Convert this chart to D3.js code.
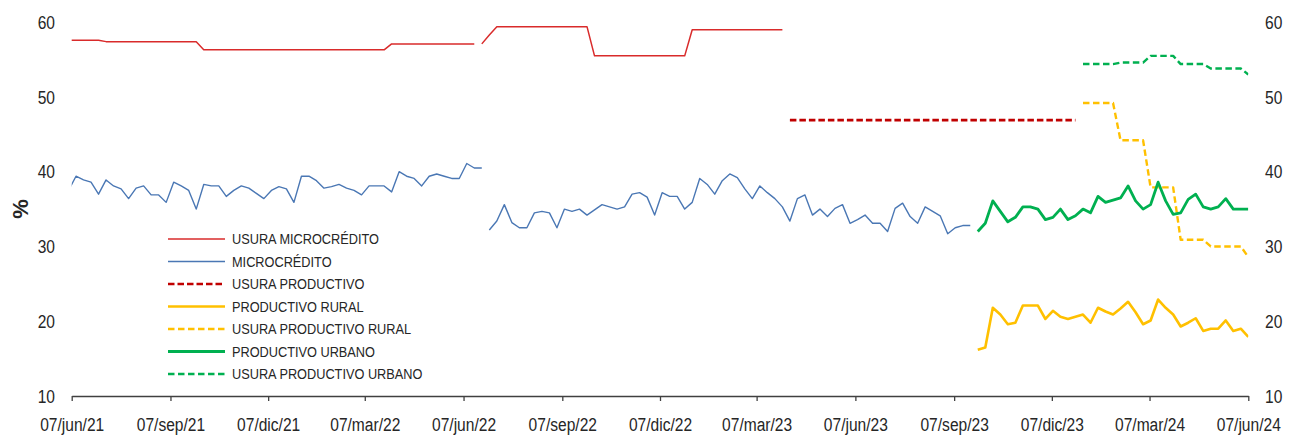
<!DOCTYPE html>
<html><head><meta charset="utf-8">
<script src="https://cdn.jsdelivr.net/npm/d3@7"></script>
<style>
body{margin:0;background:#fff}
svg{display:block}
text{font-family:"Liberation Sans",Arial,sans-serif;fill:#262626}
</style></head>
<body><svg id="c" width="1297" height="438"></svg>
<script>
// ---------- DATA ----------
const firstWeek = "2021-06-04"; // week index 0 (weekly, Fridays)
const tickDates = ["2021-06-07","2021-09-07","2021-12-07","2022-03-07","2022-06-07","2022-09-07","2022-12-07","2023-03-07","2023-06-07","2023-09-07","2023-12-07","2024-03-07","2024-06-07"];
const tickLabels = ["07/jun/21","07/sep/21","07/dic/21","07/mar/22","07/jun/22","07/sep/22","07/dic/22","07/mar/23","07/jun/23","07/sep/23","07/dic/23","07/mar/24","07/jun/24"];
const yTicks = [10,20,30,40,50,60];

// week 0-54
const usuraMicrocredito1 = [57.6,57.6,57.6,57.6,57.6,57.4,57.4,57.4,57.4,57.4,57.4,57.4,57.4,57.4,57.4,57.4,57.4,57.4,
  56.3,56.3,56.3,56.3,56.3,56.3,56.3,56.3,56.3,56.3,56.3,56.3,56.3,56.3,56.3,56.3,56.3,56.3,56.3,56.3,56.3,56.3,56.3,56.3,56.3,
  57.1,57.1,57.1,57.1,57.1,57.1,57.1,57.1,57.1,57.1,57.1,57.1];
// week 55-95
const usuraMicrocredito2 = [57.1,58.3,59.4,59.4,59.4,59.4,59.4,59.4,59.4,59.4,59.4,59.4,59.4,59.4,59.4,
  55.5,55.5,55.5,55.5,55.5,55.5,55.5,55.5,55.5,55.5,55.5,55.5,55.5,
  59.0,59.0,59.0,59.0,59.0,59.0,59.0,59.0,59.0,59.0,59.0,59.0,59.0];
// week 0-55
const microcredito1 = [37.5,39.4,38.9,38.6,37.0,38.9,38.1,37.7,36.4,37.8,
  38.1,36.9,36.9,35.9,38.6,38.1,37.5,35.0,38.3,38.1,
  38.1,36.7,37.5,38.1,37.8,37.1,36.4,37.5,38.0,37.7,
  35.9,39.4,39.4,38.8,37.8,38.0,38.3,37.8,37.5,36.9,
  38.1,38.1,38.1,37.3,40.0,39.4,39.1,38.1,39.4,39.7,
  39.4,39.1,39.1,41.1,40.5,40.5];
// week 56-120
const microcredito2 = [32.2,33.4,35.6,33.2,32.5,32.5,34.5,34.7,34.5,32.5,
  35.0,34.7,35.0,34.2,34.9,35.6,35.3,35.0,35.3,37.0,
  37.2,36.6,34.2,37.2,36.7,36.7,35.0,35.9,39.1,38.3,
  37.0,38.8,39.7,39.2,37.7,36.4,38.1,37.2,36.4,35.3,
  33.4,36.4,36.9,34.2,35.0,34.0,35.1,35.6,33.1,33.6,
  34.2,33.1,33.1,32.0,35.1,35.8,34.0,33.1,35.3,34.7,
  34.1,31.7,32.5,32.8,32.8];
// week 96-134
const usuraProductivo = [46.9,46.9,46.9,46.9,46.9,46.9,46.9,46.9,46.9,46.9,46.9,46.9,46.9,46.9,46.9,46.9,46.9,46.9,46.9,46.9,
  46.9,46.9,46.9,46.9,46.9,46.9,46.9,46.9,46.9,46.9,46.9,46.9,46.9,46.9,46.9,46.9,46.9,46.9,46.9];
// week 121-157
const productivoRural = [16.2,16.5,21.8,20.9,19.6,19.8,22.1,22.1,22.1,20.3,
  21.4,20.6,20.3,20.6,20.9,19.8,21.8,21.3,20.9,21.7,
  22.6,21.2,19.6,20.1,22.9,21.8,20.9,19.3,19.8,20.4,
  18.7,19.0,19.0,20.1,18.7,19.0,17.9];
// week 135-157
const usuraProductivoRural = [49.2,49.2,49.2,49.2,49.2,44.2,44.2,44.2,44.2,37.9,37.9,37.9,37.9,
  30.9,30.9,30.9,30.9,30.0,30.0,30.0,30.0,30.0,28.6];
// week 121-157
const productivoUrbano = [32.0,33.1,36.1,34.7,33.3,33.9,35.3,35.3,35.0,33.6,
  33.9,35.0,33.6,34.1,35.0,34.5,36.7,35.9,36.2,36.5,
  38.1,36.1,35.0,35.6,38.6,36.1,34.3,34.5,36.3,37.0,
  35.3,35.0,35.3,36.4,35.0,35.0,35.0];
// week 135-157
const usuraProductivoUrbano = [54.4,54.4,54.4,54.4,54.4,54.6,54.6,54.6,54.6,55.5,55.5,55.5,55.5,
  54.4,54.4,54.4,54.4,53.8,53.8,53.8,53.8,53.8,53.0];

const seriesNames = ["USURA MICROCRÉDITO","MICROCRÉDITO","USURA PRODUCTIVO","PRODUCTIVO RURAL","USURA PRODUCTIVO RURAL","PRODUCTIVO URBANO","USURA PRODUCTIVO URBANO"];

// ---------- SETUP ----------
const NARROW = "scale(0.82,1)";
const parse = d3.utcParse("%Y-%m-%d");
const w0 = parse(firstWeek);
const series = [
  {name:seriesNames[0], segs:[[0,usuraMicrocredito1],[55,usuraMicrocredito2]], color:"#D92B2B", width:1.5, dash:null},
  {name:seriesNames[1], segs:[[0,microcredito1],[56,microcredito2]], color:"#4A77B4", width:1.4, dash:null},
  {name:seriesNames[2], segs:[[96,usuraProductivo]], color:"#C00000", width:2.6, dash:"6.5,3"},
  {name:seriesNames[3], segs:[[121,productivoRural]], color:"#FFC000", width:2.6, dash:null},
  {name:seriesNames[4], segs:[[135,usuraProductivoRural]], color:"#FFC000", width:2.4, dash:"6.5,3.5"},
  {name:seriesNames[5], segs:[[121,productivoUrbano]], color:"#00B050", width:2.8, dash:null},
  {name:seriesNames[6], segs:[[135,usuraProductivoUrbano]], color:"#00B050", width:2.4, dash:"6.5,3.5"}
];

const svg = d3.select("#c");
const x = d3.scaleUtc().domain([parse(tickDates[0]), parse(tickDates[tickDates.length-1])]).range([71.7,1248.3]);
const y = d3.scaleLinear().domain([10,60]).range([396,22.2]);

svg.append("clipPath").attr("id","clip").append("rect")
  .attr("x",x.range()[0]).attr("y",0).attr("width",x.range()[1]-x.range()[0]).attr("height",438);

const line = d3.line().x(d=>x(d.date)).y(d=>y(d.v));
const gLines = svg.append("g").attr("clip-path","url(#clip)");
series.forEach(s=>{
  s.segs.forEach(([start,vals])=>{
    const pts = vals.map((v,j)=>({date:d3.utcDay.offset(w0,7*(start+j)), v}));
    gLines.append("path").datum(pts)
      .attr("d",line).attr("fill","none")
      .attr("stroke",s.color).attr("stroke-width",s.width)
      .attr("stroke-dasharray",s.dash).attr("stroke-linejoin","round");
  });
});

// x axis
const xAxis = d3.axisBottom(x).tickValues(tickDates.map(parse))
  .tickFormat((d,i)=>tickLabels[i]).tickSize(5).tickSizeOuter(0);
const gx = svg.append("g").attr("transform","translate(0,396)").call(xAxis);
gx.select(".domain").attr("stroke","#404040").attr("stroke-width",1.6);
gx.selectAll(".tick line").attr("stroke","#404040").attr("stroke-width",1.3);
gx.selectAll(".tick text").attr("y",35).attr("dy",0).attr("transform",NARROW)
  .style("font-size","19px").attr("fill","#262626");

// y axes (labels only)
const gyl = svg.append("g").attr("transform","translate(55,0)")
  .call(d3.axisLeft(y).tickValues(yTicks).tickSize(0).tickPadding(0));
const gyr = svg.append("g").attr("transform","translate(1265,0)")
  .call(d3.axisRight(y).tickValues(yTicks).tickSize(0).tickPadding(0));
[gyl,gyr].forEach(g=>{
  g.select(".domain").remove();
  g.selectAll(".tick text").attr("transform",NARROW).style("font-size","19px").attr("fill","#262626");
});

svg.append("text").attr("transform","translate(20,209) rotate(-90)")
  .attr("text-anchor","middle").attr("dominant-baseline","central")
  .style("font-size","22px").style("font-weight","bold").attr("fill","#000").text("%");

// legend
const lg = svg.append("g");
series.forEach((s,i)=>{
  const yy = 239 + i*22.5;
  lg.append("line").attr("x1",168).attr("x2",225).attr("y1",yy).attr("y2",yy)
    .attr("stroke",s.color).attr("stroke-width",s.width).attr("stroke-dasharray",s.dash);
  lg.append("g").attr("transform",`translate(232,${yy})`)
    .append("text").attr("transform","scale(0.85,1)").attr("dy","0.36em")
    .style("font-size","15px").text(s.name);
});
</script></body></html>
